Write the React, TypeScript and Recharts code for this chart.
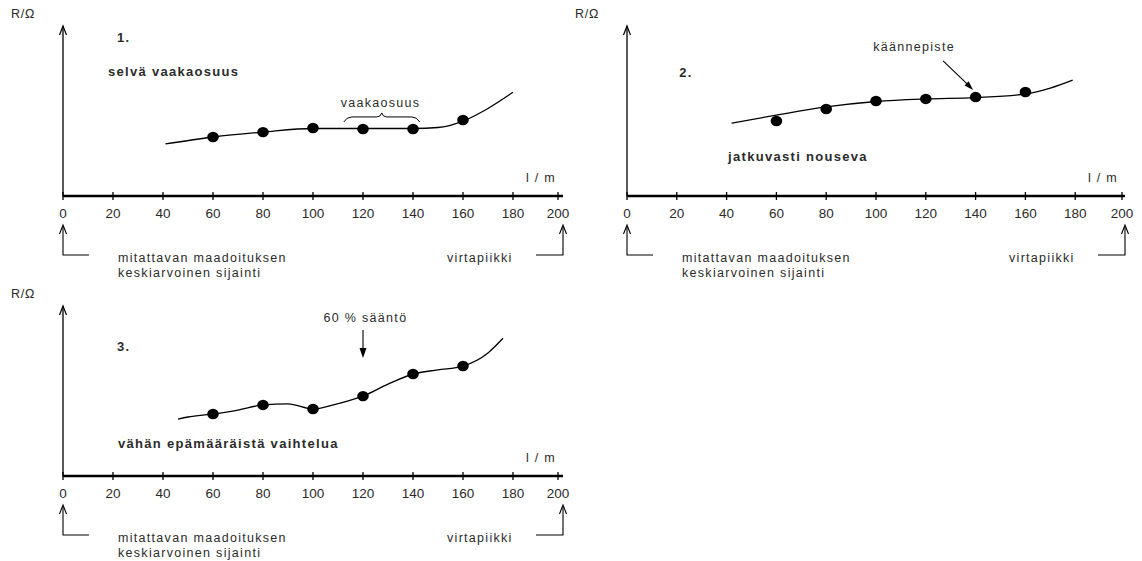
import { ComposedChart, Line, Scatter, XAxis, YAxis, ReferenceLine, ReferenceDot } from 'recharts';

// distance along the measuring line, m
const xTicks = [0, 20, 40, 60, 80, 100, 120, 140, 160, 180, 200];
const pointX = [60, 80, 100, 120, 140, 160];

// 1. clear flat part
const points1 = [34.7, 37.6, 40, 39.4, 39.4, 44.7];
const curveX1 = [41, 60, 80, 100, 120, 140, 150, 160, 170, 180];
const curveY1 = [30.6, 34.7, 37.6, 39.7, 39.7, 39.7, 40.3, 44.1, 51.5, 61];

// 2. rising all the way
const points2 = [44.1, 51.2, 55.9, 57.1, 58.2, 61.2];
const curveX2 = [42, 60, 80, 100, 120, 140, 160, 170, 179];
const curveY2 = [42.9, 47.6, 52.4, 55.6, 57.1, 57.9, 60, 63.5, 68.2];

// 3. some irregular variation
const points3 = [36.5, 41.8, 39.4, 47, 60, 64.7];
const curveX3 = [46, 50, 60, 70, 80, 90, 100, 110, 120, 130, 140, 150, 160, 170, 176];
const curveY3 = [33.5, 34.7, 36.5, 38.8, 41.8, 42.4, 39.4, 42.6, 47, 54, 60, 62.4, 64.7, 72.4, 81];

const FONT = '"Liberation Sans", Arial, sans-serif';
const INK = '#2b2b2b';

const toRows = (xs: number[], ys: number[]) => xs.map((x, i) => ({ x, y: ys[i] }));

const Blob = (p: any) => <ellipse cx={p.cx} cy={p.cy} rx={5.8} ry={5.2} fill="#000" />;

const Tick = (p: any) => (
  <g>
    <line x1={p.x} x2={p.x} y1={p.y - 4} y2={p.y + 4} stroke="#000" strokeWidth={1.3} />
    <text x={p.x} y={p.y + 17} textAnchor="middle" dominantBaseline="central"
      fontFamily={FONT} fontSize={13.5} fill={INK}>
      {p.payload.value}
    </text>
  </g>
);

// arrows + captions under the distance axis
const Foot = ({ viewBox }: any) => {
  if (!viewBox) return null;
  const { x, y, width } = viewBox;
  const r = x + width;
  const txt = { fontFamily: FONT, fontSize: 12.5, fill: INK, letterSpacing: 1.3, dominantBaseline: 'central' as const };
  const ln = { fill: 'none', stroke: '#000', strokeWidth: 1.1 };
  return (
    <g>
      <polyline points={`${x},${y + 30} ${x},${y + 59} ${x + 26},${y + 59}`} {...ln} />
      <polyline points={`${x - 3.5},${y + 38} ${x},${y + 29} ${x + 3.5},${y + 38}`} {...ln} />
      <polyline points={`${r - 27},${y + 59} ${r},${y + 59} ${r},${y + 30}`} {...ln} />
      <polyline points={`${r - 3.5},${y + 38} ${r},${y + 29} ${r + 3.5},${y + 38}`} {...ln} />
      <text x={x + 55} y={y + 62} {...txt}>mitattavan maadoituksen</text>
      <text x={x + 55} y={y + 77} {...txt}>keskiarvoinen sijainti</text>
      <text x={r - 116} y={y + 62} {...txt}>virtapiikki</text>
      <text x={r - 22} y={y - 18} textAnchor="middle" {...txt}>l / m</text>
    </g>
  );
};

const note = (key: string, x: number, y: number, text: string, bold = false, anchor: 'start' | 'middle' = 'start') => (
  <ReferenceDot key={key} x={x} y={y} r={0} ifOverflow="visible"
    shape={(p: any) => (
      <text x={p.cx} y={p.cy} textAnchor={anchor} dominantBaseline="central" fontFamily={FONT}
        fontSize={bold ? 13 : 12.5} fontWeight={bold ? 'bold' : 'normal'} letterSpacing={1.3} fill={INK}>
        {text}
      </text>
    )} />
);

const yHead = (
  <ReferenceDot key="yhead" x={0} y={100} r={0} ifOverflow="visible"
    shape={(p: any) => (
      <g>
        <polyline points={`${p.cx - 3.5},${p.cy + 9} ${p.cx},${p.cy} ${p.cx + 3.5},${p.cy + 9}`}
          fill="none" stroke="#000" strokeWidth={1.2} />
        <text x={p.cx - 40} y={p.cy - 12} textAnchor="middle" dominantBaseline="central"
          fontFamily={FONT} fontSize={12.5} letterSpacing={0.8} fill={INK}>R/Ω</text>
      </g>
    )} />
);

const Panel = ({ left, top, rightPad, points, curve, children }: any) => (
  <div style={{ position: 'absolute', left, top }}>
    <ComposedChart width={570} height={280} margin={{ top: 26, right: rightPad, bottom: 54, left: 63 }}>
      <XAxis dataKey="x" type="number" domain={[0, 200]} ticks={xTicks} height={30}
        axisLine={{ stroke: '#000', strokeWidth: 2.6 }} tickLine={false} tickSize={0} tickMargin={0}
        tick={<Tick />} label={{ content: (p: any) => <Foot viewBox={p.viewBox} /> }} />
      <YAxis hide type="number" domain={[0, 100]} />
      <ReferenceLine x={0} stroke="#000" strokeWidth={1.3} ifOverflow="visible" />
      {yHead}
      <Line data={curve} dataKey="y" type="monotone" stroke="#000" strokeWidth={1.3}
        dot={false} activeDot={false} isAnimationActive={false} />
      <Scatter data={points} dataKey="y" shape={<Blob />} isAnimationActive={false} />
      {children}
    </ComposedChart>
  </div>
);

export default function App() {
  return (
    <div style={{ position: 'absolute', left: 0, top: 0, width: 1142, height: 561, background: '#fff' }}>
      <Panel left={0} top={0} rightPad={7} points={toRows(pointX, points1)} curve={toRows(curveX1, curveY1)}>
        {note('n1', 21.6, 93, '1.', true)}
        {note('t1', 18, 73, 'selvä vaakaosuus', true)}
        {note('v1', 127, 54.5, 'vaakaosuus', false, 'middle')}
        <ReferenceDot x={127.5} y={46.5} r={0} ifOverflow="visible"
          shape={(p: any) => (
            <path d={`M${p.cx - 38},${p.cy + 5} Q${p.cx - 35},${p.cy} ${p.cx - 30},${p.cy} L${p.cx - 5},${p.cy} Q${p.cx - 1},${p.cy} ${p.cx},${p.cy - 4} Q${p.cx + 1},${p.cy} ${p.cx + 5},${p.cy} L${p.cx + 30},${p.cy} Q${p.cx + 35},${p.cy} ${p.cx + 38},${p.cy + 5}`}
              fill="none" stroke="#000" strokeWidth={1} />
          )} />
      </Panel>
      <Panel left={564} top={0} rightPad={9} points={toRows(pointX, points2)} curve={toRows(curveX2, curveY2)}>
        {note('n2', 21, 72.4, '2.', true)}
        {note('k2', 115.3, 87.6, 'käännepiste', false, 'middle')}
        {note('t2', 40.6, 23, 'jatkuvasti nouseva', true)}
        <ReferenceDot x={139} y={62.4} r={0} ifOverflow="visible"
          shape={(p: any) => (
            <g>
              <line x1={p.cx - 30} y1={p.cy - 29} x2={p.cx - 5} y2={p.cy - 5} stroke="#000" strokeWidth={1.1} />
              <path d={`M${p.cx},${p.cy} L${p.cx - 8.6},${p.cy - 4.3} L${p.cx - 4.4},${p.cy - 8.6} Z`} fill="#000" />
            </g>
          )} />
      </Panel>
      <Panel left={0} top={280} rightPad={7} points={toRows(pointX, points3)} curve={toRows(curveX3, curveY3)}>
        {note('n3', 21.6, 76, '3.', true)}
        {note('s3', 121, 93, '60 % sääntö', false, 'middle')}
        {note('t3', 22, 19.4, 'vähän epämääräistä vaihtelua', true)}
        <ReferenceDot x={120} y={69.4} r={0} ifOverflow="visible"
          shape={(p: any) => (
            <g>
              <line x1={p.cx} y1={p.cy - 28} x2={p.cx} y2={p.cy - 6} stroke="#000" strokeWidth={1.1} />
              <path d={`M${p.cx},${p.cy} L${p.cx - 3.5},${p.cy - 10} L${p.cx + 3.5},${p.cy - 10} Z`} fill="#000" />
            </g>
          )} />
      </Panel>
    </div>
  );
}
